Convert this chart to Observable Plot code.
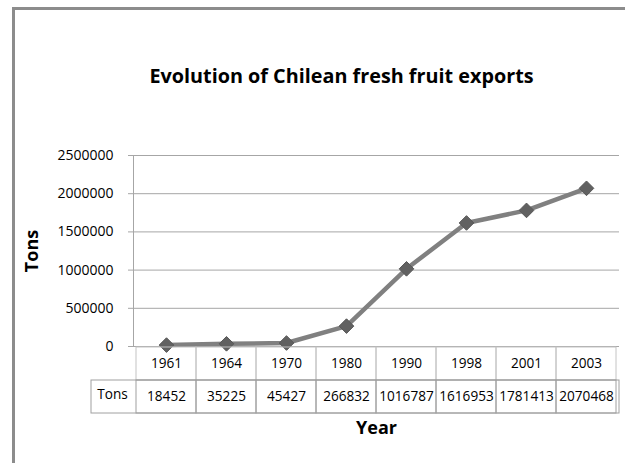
<!DOCTYPE html>
<html><head><meta charset="utf-8">
<script src="https://cdn.jsdelivr.net/npm/d3@7"></script>
<script src="https://cdn.jsdelivr.net/npm/@observablehq/plot@0.6"></script>
<style>
body{margin:0;background:#fff;}
#wrap{position:relative;width:625px;height:463px;overflow:hidden;background:#fff;font-family:"Open Sans",sans-serif;}
#wrap svg{position:absolute;left:0;}
#border{position:absolute;left:12px;top:7px;width:700px;height:600px;border-left:3px solid #8c8c8c;border-top:3px solid #8c8c8c;}
</style></head><body><div id="wrap"></div>
<script>
const years = ["1961","1964","1970","1980","1990","1998","2001","2003"];
const tons = [18452,35225,45427,266832,1016787,1616953,1781413,2070468];
const yTicks = [0,500000,1000000,1500000,2000000,2500000];
const title = "Evolution of Chilean fresh fruit exports";
const yLabel = "Tons";
const xLabel = "Year";
const rowLabel = "Tons";

const data = years.map((year, i) => ({year, tons: tons[i]}));
const rows = data.flatMap(d => [
  {year: d.year, row: "year", label: d.year},
  {year: d.year, row: "tons", label: String(d.tons)}
]);

const font = "'Open Sans', sans-serif";
const grid = "#a6a6a6";
const fs = 14;
const tfs = 13.6;

const chart = Plot.plot({
  width: 625, height: 463,
  marginTop: 155, marginBottom: 117, marginLeft: 133, marginRight: 6,
  style: {fontFamily: font, fontSize: fs + "px", color: "#000", background: "transparent", overflow: "visible"},
  x: {domain: years, type: "band", padding: 0, axis: null},
  y: {domain: [0, 2500000], axis: null},
  marks: [
    Plot.gridY(yTicks, {stroke: grid, strokeOpacity: 1}),
    Plot.axisY(yTicks, {tickSize: 5, tickPadding: 15, stroke: grid, fill: "#000", tickFormat: d => String(d), label: null, fontSize: fs}),
    Plot.frame({anchor: "left", stroke: grid}),
    Plot.line(data, {x: "year", y: "tons", stroke: "#808080", strokeWidth: 4.5}),
    Plot.dot(data, {x: "year", y: "tons", symbol: "diamond2", r: 6.6, fill: "#616161", stroke: "#585858", strokeWidth: 1}),
    Plot.text([title], {text: d => d, frameAnchor: "top", dx: -35, dy: -87, fontWeight: "bold", fontSize: 19.8, fill: "#000"}),
    Plot.text([yLabel], {text: d => d, frameAnchor: "left", textAnchor: "middle", dx: -101, rotate: -90, fontWeight: "bold", fontSize: 18, fill: "#000"}),
    Plot.text([xLabel], {text: d => d, frameAnchor: "bottom", dy: 87, fontWeight: "bold", fontSize: 18, fill: "#000"})
  ]
});

const table = Plot.plot({
  width: 625, height: 68,
  marginTop: 0, marginBottom: 1, marginLeft: 91, marginRight: 6,
  style: {fontFamily: font, fontSize: tfs + "px", color: "#000", background: "transparent", overflow: "visible"},
  x: {domain: years, type: "band", range: [133, 619], padding: 0, axis: null},
  y: {domain: ["year", "tons"], type: "band", padding: 0, axis: null},
  marks: [
    Plot.cell(rows.filter(d => d.row === "year"), {x: "year", y: "row", stroke: "#c4c4c4", fill: "none"}),
    Plot.cell([{row: "tons"}], {y: "row", stroke: "#a0a0a0", fill: "none"}),
    Plot.cell(rows.filter(d => d.row === "tons"), {x: "year", y: "row", stroke: "#a0a0a0", fill: "none"}),
    Plot.text(rows, {x: "year", y: "row", text: "label", fontSize: tfs, fill: "#000"}),
    Plot.text([{row: "tons", label: rowLabel}], {y: "row", text: "label", frameAnchor: "left", textAnchor: "middle", dx: 21, dy: -2, fontSize: tfs, fill: "#000"})
  ]
});

const wrap = document.getElementById("wrap");
chart.style.top = "0px";
table.style.top = "346px";
wrap.appendChild(chart);
wrap.appendChild(table);
const border = document.createElement("div");
border.id = "border";
wrap.appendChild(border);
</script>
</body></html>
